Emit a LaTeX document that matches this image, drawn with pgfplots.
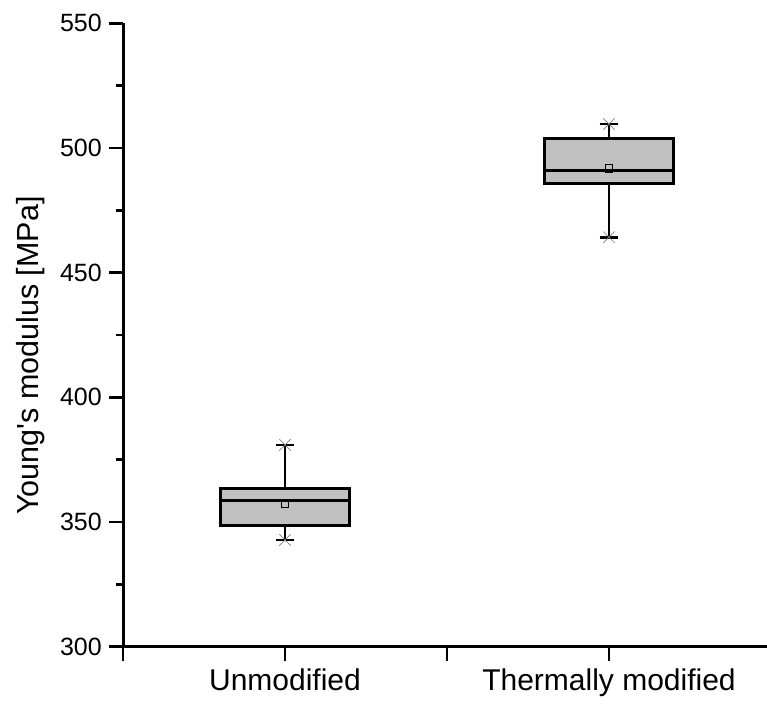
\documentclass[border=0pt]{standalone}
\usepackage{fontspec}
\setmainfont{Liberation Sans}
\usepackage{pgfplots}
\pgfplotsset{compat=1.18}
\definecolor{boxgray}{RGB}{192,192,192}
\begin{document}
\begin{tikzpicture}
\useasboundingbox (0pt,0pt) rectangle (767pt,704pt);
\begin{axis}[
  at={(123pt,57.3pt)}, anchor=south west,
  scale only axis, width=644pt, height=623.4pt,
  xmin=0.5, xmax=2.4877, ymin=300, ymax=550,
  axis x line*=bottom, axis y line*=left,
  axis line style={-, line width=3pt},
  tick align=outside,
  major tick length=14pt, minor tick length=7pt,
  tick style={black, line width=2.7pt},
  xtick={0.5,1,1.5,2},
  xticklabels={,Unmodified,,Thermally modified},
  ytick={300,350,400,450,500,550},
  minor ytick={325,375,425,475,525},
  /pgf/number format/assume math mode=true,
  yticklabel style={font=\fontsize{25}{29}\selectfont, anchor=east, inner sep=0pt, xshift=-7pt},
  xticklabel style={font=\fontsize{30}{34}\selectfont, anchor=north, inner sep=0pt, yshift=-8pt},
  ylabel={Young\textquotesingle s modulus [MPa]},
  every axis y label/.style={at={(rel axis cs:-0.1305,0.467)}, anchor=base, rotate=90, inner sep=0pt, font=\fontsize{30.5}{34}\selectfont},
  clip=false,
]
% Unmodified
\addplot[draw=black, fill=boxgray, line width=3pt, line join=miter] coordinates {(0.8,348.7) (1.2,348.7) (1.2,363.5) (0.8,363.5) (0.8,348.7) (1.2,348.7)};
\addplot[black, line width=3pt] coordinates {(0.8,358.5) (1.2,358.5)};
\addplot[black, line width=2.6pt] coordinates {(1,363.5) (1,380.9)};
\addplot[black, line width=2.6pt] coordinates {(1,348.7) (1,342.8)};
\addplot[black, line width=2.8pt] coordinates {(0.971,380.9) (1.029,380.9)};
\addplot[black, line width=2.8pt] coordinates {(0.971,342.8) (1.029,342.8)};
% Thermally modified
\addplot[draw=black, fill=boxgray, line width=3pt, line join=miter] coordinates {(1.8,485.8) (2.2,485.8) (2.2,503.9) (1.8,503.9) (1.8,485.8) (2.2,485.8)};
\addplot[black, line width=3pt] coordinates {(1.8,490.9) (2.2,490.9)};
\addplot[black, line width=2.6pt] coordinates {(2,503.9) (2,509.6)};
\addplot[black, line width=2.6pt] coordinates {(2,485.8) (2,464.2)};
\addplot[black, line width=2.8pt] coordinates {(1.971,509.6) (2.029,509.6)};
\addplot[black, line width=2.8pt] coordinates {(1.971,464.2) (2.029,464.2)};
% means and whisker-end marks
\addplot[only marks, mark=square, mark size=3.7pt, mark options={line width=1pt, black}]
  coordinates {(1,357.5) (2,491.7)};
\addplot[only marks, mark=x, mark size=8pt, mark options={line width=0.7pt, gray}]
  coordinates {(1,342.8) (1,380.9) (2,464.2) (2,509.6)};
\end{axis}
\end{tikzpicture}
\end{document}
